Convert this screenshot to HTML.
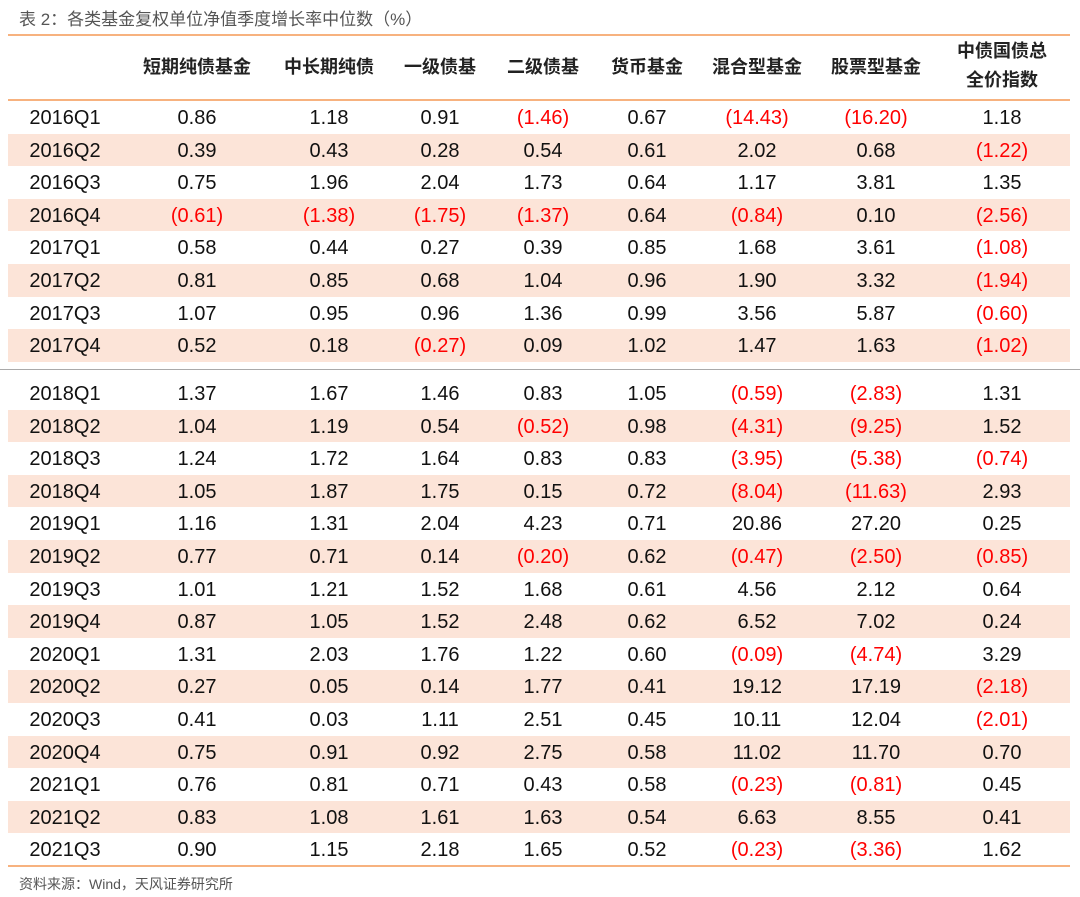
<!DOCTYPE html>
<html><head><meta charset="utf-8"><style>
body{margin:0;width:1080px;height:897px;background:#fff;position:relative;overflow:hidden;font-family:"Liberation Sans","Noto Sans CJK SC",sans-serif;}
.a{position:absolute;}
.c{position:absolute;transform:translateX(-50%);white-space:nowrap;font-size:20px;color:#111;line-height:32px;}
.h{font-weight:bold;font-size:18px;color:#222;line-height:29px;text-align:center;}
.neg{color:#f00;}
</style></head><body>
<div class="a" style="left:19px;top:5px;font-size:17px;color:#555;">表 2：各类基金复权单位净值季度增长率中位数（%）</div>
<div class="a" style="left:8px;top:34px;width:1062px;height:2px;background:#f7b27f"></div>
<div class="a" style="left:8px;top:99px;width:1062px;height:2px;background:#f7b27f"></div>
<div class="a" style="left:0;top:369px;width:1080px;height:1px;background:#aaa"></div>
<div class="a" style="left:8px;top:865px;width:1062px;height:2px;background:#f7b27f"></div>
<div class="a" style="left:19px;top:874px;font-size:14px;color:#555;">资料来源：Wind，天风证券研究所</div>
<div id="t"></div>
<script>
const headers=["短期纯债基金","中长期纯债","一级债基","二级债基","货币基金","混合型基金","股票型基金","中债国债总<br>全价指数"];
const quarters=["2016Q1","2016Q2","2016Q3","2016Q4","2017Q1","2017Q2","2017Q3","2017Q4","2018Q1","2018Q2","2018Q3","2018Q4","2019Q1","2019Q2","2019Q3","2019Q4","2020Q1","2020Q2","2020Q3","2020Q4","2021Q1","2021Q2","2021Q3"];
const shortBond=[0.86,0.39,0.75,-0.61,0.58,0.81,1.07,0.52,1.37,1.04,1.24,1.05,1.16,0.77,1.01,0.87,1.31,0.27,0.41,0.75,0.76,0.83,0.90];
const longBond=[1.18,0.43,1.96,-1.38,0.44,0.85,0.95,0.18,1.67,1.19,1.72,1.87,1.31,0.71,1.21,1.05,2.03,0.05,0.03,0.91,0.81,1.08,1.15];
const primaryBond=[0.91,0.28,2.04,-1.75,0.27,0.68,0.96,-0.27,1.46,0.54,1.64,1.75,2.04,0.14,1.52,1.52,1.76,0.14,1.11,0.92,0.71,1.61,2.18];
const secondaryBond=[-1.46,0.54,1.73,-1.37,0.39,1.04,1.36,0.09,0.83,-0.52,0.83,0.15,4.23,-0.20,1.68,2.48,1.22,1.77,2.51,2.75,0.43,1.63,1.65];
const money=[0.67,0.61,0.64,0.64,0.85,0.96,0.99,1.02,1.05,0.98,0.83,0.72,0.71,0.62,0.61,0.62,0.60,0.41,0.45,0.58,0.58,0.54,0.52];
const mixed=[-14.43,2.02,1.17,-0.84,1.68,1.90,3.56,1.47,-0.59,-4.31,-3.95,-8.04,20.86,-0.47,4.56,6.52,-0.09,19.12,10.11,11.02,-0.23,6.63,-0.23];
const stock=[-16.20,0.68,3.81,0.10,3.61,3.32,5.87,1.63,-2.83,-9.25,-5.38,-11.63,27.20,-2.50,2.12,7.02,-4.74,17.19,12.04,11.70,-0.81,8.55,-3.36];
const govIndex=[1.18,-1.22,1.35,-2.56,-1.08,-1.94,-0.60,-1.02,1.31,1.52,-0.74,2.93,0.25,-0.85,0.64,0.24,3.29,-2.18,-2.01,0.70,0.45,0.41,1.62];
const series=[shortBond,longBond,primaryBond,secondaryBond,money,mixed,stock,govIndex];
const colX=[65,197,329,440,543,647,757,876,1002];
const t=document.getElementById('t');
headers.forEach((h,i)=>{
  const d=document.createElement('div');
  d.className='a h';
  
  
  d.style.left=colX[i+1]+'px';d.style.transform='translateX(-50%)';
  d.style.whiteSpace='nowrap';
  const two=h.includes('<br>');
  d.style.top=(two?37:53)+'px';
  d.innerHTML=h;t.appendChild(d);
});
const rowH=32.6;
quarters.forEach((q,r)=>{
  const top=r<8?101+r*rowH:377+(r-8)*rowH;
  const shaded=(r%2==1);
  if(shaded){
    const bg=document.createElement('div');
    bg.className='a';
    
    
    bg.style.cssText=`left:8px;top:${top}px;width:1062px;height:${rowH}px;background:#fce4d8`;
    t.appendChild(bg);
  }
  const l=document.createElement('div');
  l.className='c';
  
  
  l.style.left=colX[0]+'px';l.style.top=(top+1)+'px';l.textContent=q;t.appendChild(l);
  series.forEach((s,i)=>{
    const v=s[r];
    const c=document.createElement('div');
    c.className='c'+(v<0?' neg':'');
    
    
    c.style.left=colX[i+1]+'px';c.style.top=(top+1)+'px';
    c.textContent=v<0?'('+Math.abs(v).toFixed(2)+')':v.toFixed(2);
    t.appendChild(c);
  });
});
</script>
</body></html>
